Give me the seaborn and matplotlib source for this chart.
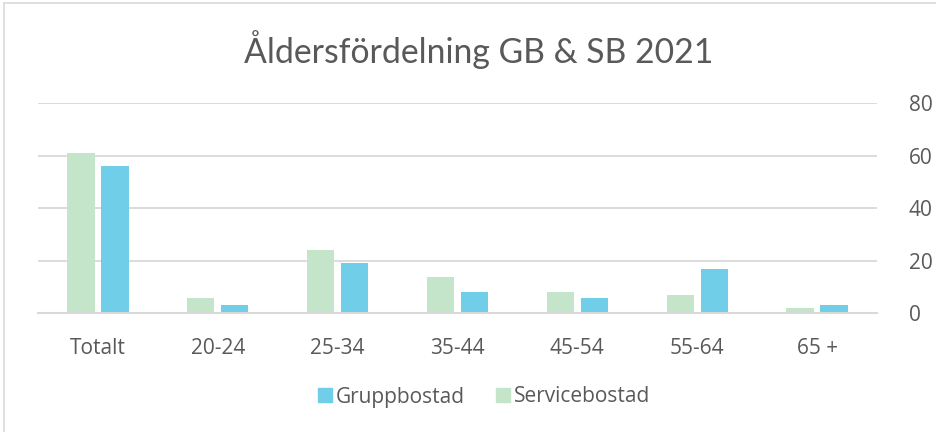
import pandas as pd
import matplotlib.pyplot as plt
import seaborn as sns
from matplotlib.lines import Line2D

# data
categories = ['Totalt', '20-24', '25-34', '35-44', '45-54', '55-64', '65 +']
servicebostad = [61, 6, 24, 14, 8, 7, 2]
gruppbostad = [56, 3, 19, 8, 6, 17, 3]
y_ticks = [0, 20, 40, 60, 80]

green = '#C4E5C9'
blue = '#71CEE9'
text_col = '#595959'
grid_col = '#D9D9D9'

df = pd.DataFrame({
    'kategori': categories * 2,
    'antal': servicebostad + gruppbostad,
    'typ': ['Servicebostad'] * len(categories) + ['Gruppbostad'] * len(categories),
})

sns.set_style('white')
plt.rcParams['font.family'] = ['Open Sans', 'DejaVu Sans']

fig = plt.figure(figsize=(9.36, 4.32), dpi=100)
ax = fig.add_axes([38 / 936, 1 - 313.3 / 432, (877 - 38) / 936, (313.3 - 103.3) / 432])

sns.barplot(data=df, x='kategori', y='antal', hue='typ',
            hue_order=['Servicebostad', 'Gruppbostad'],
            palette=[green, blue], saturation=1, width=0.567, gap=0.2,
            linewidth=0, ax=ax, legend=False)

ax.set_ylim(0, 80)
ax.set_yticks(y_ticks)
ax.set_xlim(-0.5, len(categories) - 0.5)
ax.yaxis.tick_right()
ax.tick_params(axis='y', length=0, pad=23, labelsize=15, labelcolor=text_col)
ax.tick_params(axis='x', length=0, pad=18, labelsize=15, labelcolor=text_col)
ax.set_xlabel('')
ax.set_ylabel('')
ax.grid(axis='y', color=grid_col, linewidth=1.3)
ax.set_axisbelow(True)
for s in ['top', 'left', 'right']:
    ax.spines[s].set_visible(False)
ax.spines['bottom'].set_color(grid_col)
ax.spines['bottom'].set_linewidth(1.5)

fig.text(0.511, 1 - 50 / 432, 'Åldersfördelning GB & SB 2021', ha='center', va='center',
         fontsize=24.3, color=text_col, family=['Lato', 'DejaVu Sans'])

handles = [Line2D([], [], marker='s', linestyle='', markersize=10, color=blue),
           Line2D([], [], marker='s', linestyle='', markersize=10, color=green)]
fig.legend(handles, ['Gruppbostad', 'Servicebostad'], loc='center',
           bbox_to_anchor=(0.516, 1 - 397 / 432), ncol=2, frameon=False,
           fontsize=15, labelcolor=text_col, handletextpad=0.05, columnspacing=1.4,
           handlelength=0.9)

# chart area border
fig.add_artist(Line2D([4 / 936, 4 / 936], [0, 1 - 3 / 432], color=grid_col, linewidth=1.2))
fig.add_artist(Line2D([4 / 936, 1], [1 - 3 / 432, 1 - 3 / 432], color=grid_col, linewidth=1.2))

fig.savefig('out.png', dpi=100)
